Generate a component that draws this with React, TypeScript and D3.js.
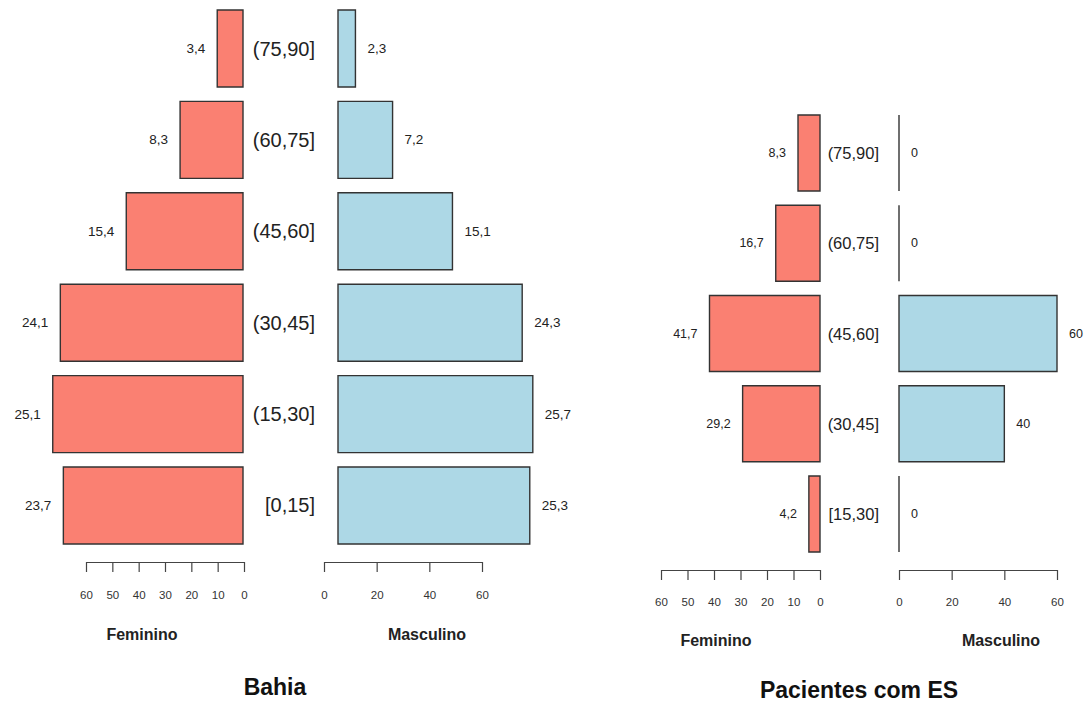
import React, { useEffect, useRef } from "react";
import * as d3 from "d3";

// ---- Data ----
const bahiaAges = ["(75,90]", "(60,75]", "(45,60]", "(30,45]", "(15,30]", "[0,15]"];
const bahiaFeminino = [3.4, 8.3, 15.4, 24.1, 25.1, 23.7];
const bahiaMasculino = [2.3, 7.2, 15.1, 24.3, 25.7, 25.3];

const esAges = ["(75,90]", "(60,75]", "(45,60]", "(30,45]", "[15,30]"];
const esFeminino = [8.3, 16.7, 41.7, 29.2, 4.2];
const esMasculino = [0, 0, 60, 40, 0];

const femininoTicks = [60, 50, 40, 30, 20, 10, 0];
const masculinoTicks = [0, 20, 40, 60];
const sexLabels = ["Feminino", "Masculino"];
const titles = ["Bahia", "Pacientes com ES"];

const FONT = "'Liberation Sans', Arial, Helvetica, sans-serif";
const FEM_COLOR = "#FA8072";
const MASC_COLOR = "#ADD8E6";
const STROKE = "#333";

const fmt = (v: number) => String(v).replace(".", ",");

type PanelCfg = {
  ages: string[];
  fem: number[];
  masc: number[];
  title: string;
  yRange: [number, number];
  femBarRange: [number, number];
  mascBarRange: [number, number];
  femAxisRange: [number, number];
  mascAxisRange: [number, number];
  axisY: number;
  tickPad: number;
  tickFont: number;
  ageEnd: number;
  ageFont: number;
  valueFont: number;
  femLabelX: number;
  mascLabelX: number;
  sexBaseline: number;
  titleX: number;
  titleBaseline: number;
};

function Axis({ scale, ticks, y, pad, font }: { scale: d3.ScaleLinear<number, number>; ticks: number[]; y: number; pad: number; font: number }) {
  const ref = useRef<SVGGElement>(null);
  useEffect(() => {
    if (!ref.current) return;
    const axis = d3
      .axisBottom(scale)
      .tickValues(ticks)
      .tickSizeInner(10)
      .tickSizeOuter(0)
      .tickPadding(pad)
      .tickFormat((d) => String(d));
    const g = d3.select(ref.current);
    g.call(axis as any);
    g.select(".domain").attr("stroke", "#444").attr("stroke-width", 1.2);
    g.selectAll(".tick line").attr("stroke", "#444").attr("stroke-width", 1.2);
    g.selectAll(".tick text").attr("fill", "#333").style("font-size", `${font}px`).style("font-family", FONT);
  }, [scale, ticks, pad, font]);
  return <g ref={ref} transform={`translate(0,${y})`} />;
}

function Panel({ cfg }: { cfg: PanelCfg }) {
  const y = d3.scaleBand<string>().domain(cfg.ages).range(cfg.yRange).paddingInner(0.1575).paddingOuter(0);
  const femBar = d3.scaleLinear().domain([0, 60]).range(cfg.femBarRange);
  const mascBar = d3.scaleLinear().domain([0, 60]).range(cfg.mascBarRange);
  const femAxis = d3.scaleLinear().domain([0, 60]).range(cfg.femAxisRange);
  const mascAxis = d3.scaleLinear().domain([0, 60]).range(cfg.mascAxisRange);
  const bw = y.bandwidth();

  const rectPath = (x0: number, x1: number, y0: number, h: number) => {
    const p = d3.path();
    p.moveTo(x0, y0);
    p.lineTo(x1, y0);
    p.lineTo(x1, y0 + h);
    p.lineTo(x0, y0 + h);
    p.closePath();
    return p.toString();
  };

  return (
    <g>
      {cfg.ages.map((age, i) => {
        const top = y(age)!;
        const cy = top + bw / 2;
        const fx0 = femBar(0);
        const fx1 = femBar(cfg.fem[i]);
        const mx0 = mascBar(0);
        const mx1 = mascBar(cfg.masc[i]);
        return (
          <g key={age}>
            <path d={rectPath(fx1, fx0, top, bw)} fill={FEM_COLOR} stroke={STROKE} strokeWidth={1.4} />
            <path d={rectPath(mx0, mx1, top, bw)} fill={MASC_COLOR} stroke={STROKE} strokeWidth={1.4} />
            <text x={fx1 - 12} y={cy} textAnchor="end" dominantBaseline="central" fontSize={cfg.valueFont} fill="#222" fontFamily={FONT}>
              {fmt(cfg.fem[i])}
            </text>
            <text x={mx1 + 12} y={cy} textAnchor="start" dominantBaseline="central" fontSize={cfg.valueFont} fill="#222" fontFamily={FONT}>
              {fmt(cfg.masc[i])}
            </text>
            <text x={cfg.ageEnd} y={cy} textAnchor="end" dominantBaseline="central" fontSize={cfg.ageFont} fill="#222" fontFamily={FONT}>
              {age}
            </text>
          </g>
        );
      })}
      <Axis scale={femAxis} ticks={femininoTicks} y={cfg.axisY} pad={cfg.tickPad} font={cfg.tickFont} />
      <Axis scale={mascAxis} ticks={masculinoTicks} y={cfg.axisY} pad={cfg.tickPad} font={cfg.tickFont} />
      <text x={cfg.femLabelX} y={cfg.sexBaseline} textAnchor="middle" fontSize={16} fontWeight="bold" fill="#222" fontFamily={FONT}>
        {sexLabels[0]}
      </text>
      <text x={cfg.mascLabelX} y={cfg.sexBaseline} textAnchor="middle" fontSize={16} fontWeight="bold" fill="#222" fontFamily={FONT}>
        {sexLabels[1]}
      </text>
      <text x={cfg.titleX} y={cfg.titleBaseline} textAnchor="middle" fontSize={23} fontWeight="bold" fill="#111" fontFamily={FONT}>
        {cfg.title}
      </text>
    </g>
  );
}

const bahiaPx = 7.58;
const bahiaCfg: PanelCfg = {
  ages: bahiaAges,
  fem: bahiaFeminino,
  masc: bahiaMasculino,
  title: titles[0],
  yRange: [10, 544],
  femBarRange: [243, 243 - bahiaPx * 60],
  mascBarRange: [338, 338 + bahiaPx * 60],
  femAxisRange: [244, 86],
  mascAxisRange: [324, 482],
  axisY: 562,
  tickPad: 19,
  tickFont: 11.5,
  ageEnd: 315,
  ageFont: 20,
  valueFont: 13.5,
  femLabelX: 142,
  mascLabelX: 427,
  sexBaseline: 640,
  titleX: 275,
  titleBaseline: 695,
};

const esCfg: PanelCfg = {
  ages: esAges,
  fem: esFeminino,
  masc: esMasculino,
  title: titles[1],
  yRange: [115, 552],
  femBarRange: [820, 661],
  mascBarRange: [899, 1057],
  femAxisRange: [820, 661],
  mascAxisRange: [899, 1057],
  axisY: 570,
  tickPad: 18,
  tickFont: 11.5,
  ageEnd: 879,
  ageFont: 16.5,
  valueFont: 12.5,
  femLabelX: 716,
  mascLabelX: 1001,
  sexBaseline: 646,
  titleX: 859,
  titleBaseline: 698,
};

export default function App() {
  return (
    <svg width={1084} height={703} style={{ position: "absolute", left: 0, top: 0, background: "#fff" }}>
      <rect x={0} y={0} width={1084} height={703} fill="#fff" />
      <Panel cfg={bahiaCfg} />
      <Panel cfg={esCfg} />
    </svg>
  );
}
